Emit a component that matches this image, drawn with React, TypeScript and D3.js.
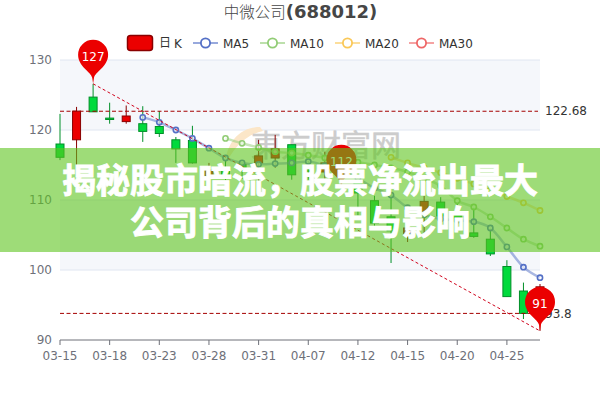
import React from "react";
import * as d3 from "d3";

// --- Data ---
const dates = [
  "03-15", "03-16", "03-17", "03-18", "03-21", "03-22", "03-23", "03-24", "03-25", "03-28",
  "03-29", "03-30", "03-31", "04-01", "04-06", "04-07", "04-08", "04-11", "04-12", "04-13",
  "04-14", "04-15", "04-18", "04-19", "04-20", "04-21", "04-22", "04-25", "04-26", "04-27",
];
const yTicks = [90, 100, 110, 120, 130];

// [open, close, low, high]
const candles: number[][] = [
  [118.0, 116.1, 115.7, 122.3],
  [118.6, 122.7, 115.0, 123.3],
  [124.7, 122.6, 122.6, 126.6],
  [121.7, 121.5, 120.9, 123.9],
  [121.2, 122.0, 120.9, 123.5],
  [120.9, 119.8, 118.3, 123.4],
  [120.5, 119.5, 119.0, 122.7],
  [118.6, 117.3, 115.3, 119.0],
  [118.5, 115.3, 115.2, 120.6],
  [113.5, 114.3, 112.5, 115.3],
  [114.2, 113.6, 112.8, 115.7],
  [115.1, 114.4, 113.0, 115.5],
  [115.3, 116.3, 112.2, 118.6],
  [116.0, 117.3, 114.6, 119.3],
  [117.9, 113.6, 112.9, 117.9],
  [114.3, 114.1, 112.9, 115.6],
  [114.0, 115.3, 112.6, 116.9],
  [113.9, 115.2, 112.4, 117.0],
  [112.5, 111.0, 107.8, 113.4],
  [109.9, 106.7, 106.0, 110.6],
  [107.6, 105.6, 101.0, 111.0],
  [105.2, 106.0, 104.0, 106.8],
  [108.1, 109.8, 104.5, 110.6],
  [109.7, 107.7, 106.5, 110.4],
  [108.0, 107.0, 106.0, 109.5],
  [105.3, 104.8, 104.6, 108.9],
  [104.4, 102.3, 102.0, 105.9],
  [100.5, 96.2, 96.2, 101.4],
  [97.0, 93.8, 93.0, 98.2],
  [93.8, 97.6, 91.3, 98.0],
];

const ma5: (number | null)[] = [
  null, null, null, null, null, 121.8, 121.1, 120.0, 118.8, 117.4,
  116.0, 115.3, 115.1, 115.2, 115.3, 115.5, 114.9, 114.3, 113.1, 111.7,
  110.7, 108.9, 107.9, 107.3, 107.1, 106.9, 106.0, 103.3, 100.4, 98.9,
];
const ma10: (number | null)[] = [
  null, null, null, null, null, null, null, null, null, null,
  118.8, 118.1, 117.5, 116.9, 116.7, 116.4, 116.0, 115.7, 115.4, 115.0,
  114.6, 114.0, 113.1, 112.0, 109.9, 109.0, 107.6, 106.0, 104.4, 103.4,
];
const ma20: (number | null)[] = [
  null, null, null, null, null, null, null, null, null, null,
  null, null, null, null, null, null, null, null, null, null,
  116.1, 115.3, 114.6, 113.9, 113.1, 112.3, 111.4, 110.5, 109.6, 108.5,
];
const ma30: (number | null)[] = dates.map(() => null);

const legendItems = [
  { name: "MA5", data: ma5, color: "#5470c6", x: 193 },
  { name: "MA10", data: ma10, color: "#91cc75", x: 260 },
  { name: "MA20", data: ma20, color: "#fac858", x: 335 },
  { name: "MA30", data: ma30, color: "#ee6666", x: 409 },
];

const highMark = { label: "127", index: 2, value: 126.6 };
const midMark = { label: "112", index: 17, value: 111.6 };
const lowMark = { label: "91", index: 29, value: 91.3 };
const hLines = [122.68, 93.8];

const font = "'DejaVu Sans', sans-serif";
const cjk = "'Noto Sans CJK SC', sans-serif";

// echarts style pin with a thin neck, tip at (0,0)
const pinPath = "M0,0 L-0.9,-6 C-2,-12 -15,-17 -15,-29 A15,15 0 1 1 15,-29 C15,-17 2,-12 0.9,-6 Z";

const App: React.FC = () => {
  const x = d3.scalePoint<string>().domain(dates).range([60, 540]);
  const y = d3.scaleLinear().domain([90, 130]).range([340, 60]);
  const tickDates = dates.filter((_, i) => i % 3 === 0);
  const bodyW = 8;

  const xi = (i: number) => x(dates[i])!;
  const line = d3
    .line<number | null>()
    .defined((d) => d !== null)
    .x((_, i) => xi(i))
    .y((d) => y(d as number))
    .curve(d3.curveMonotoneX);

  return (
    <svg
      width={600}
      height={400}
      style={{ position: "absolute", left: 0, top: 0, background: "#fff", fontFamily: font }}
    >
      {/* split areas */}
      {[[130, 120], [110, 100]].map(([a, b]) => (
        <rect key={a} x={60} width={480} y={y(a)} height={y(b) - y(a)} fill="#f5f7fb" />
      ))}

      {/* grid + y axis */}
      {yTicks.map((t) => (
        <g key={t}>
          {t !== 90 && <line x1={60} x2={540} y1={y(t)} y2={y(t)} stroke="#e0e6f1" />}
          <text x={52} y={y(t)} dy="0.35em" textAnchor="end" fontSize={12} fill="#6e7079">
            {t}
          </text>
        </g>
      ))}

      {/* watermark */}
      <path d="M260,127 C240,127 226,142 225,166 C232,150 244,135 263,131 Z" fill="#fbe6c8" />
      <text x={251} y={156} fontFamily={cjk} fontSize={30} fill="#cccccc" stroke="#cccccc" strokeWidth={0.5} textLength={150}>
        東方财富网
      </text>

      {/* x axis */}
      <line x1={60} x2={540} y1={340} y2={340} stroke="#6e7079" />
      {tickDates.map((d) => (
        <g key={d}>
          <line x1={x(d)} x2={x(d)} y1={340} y2={345} stroke="#6e7079" />
          <text x={x(d)} y={360} textAnchor="middle" fontSize={12} fill="#6e7079">
            {d}
          </text>
        </g>
      ))}

      {/* candles */}
      {candles.map(([o, c, l, h], i) => {
        const up = c > o;
        const stroke = up ? "#8a0000" : "#008f28";
        return (
          <g key={i}>
            <line x1={xi(i)} x2={xi(i)} y1={y(h)} y2={y(l)} stroke={stroke} />
            <rect
              x={xi(i) - bodyW / 2}
              width={bodyW}
              y={y(Math.max(o, c))}
              height={Math.abs(y(o) - y(c))}
              fill={up ? "#eb0000" : "#00da3c"}
              stroke={stroke}
            />
          </g>
        );
      })}

      {/* moving averages */}
      {legendItems.map((s) => (
        <g key={s.name}>
          <path d={line(s.data) ?? ""} fill="none" stroke={s.color} strokeWidth={2.5} strokeOpacity={0.5} />
          {s.data.map((d, i) =>
            d === null ? null : (
              <circle key={i} cx={xi(i)} cy={y(d)} r={2.6} fill="#fff" fillOpacity={0.6} stroke={s.color} strokeWidth={1.6} />
            ),
          )}
        </g>
      ))}

      {/* mark lines */}
      {hLines.map((v) => (
        <g key={v}>
          <line x1={60} x2={538} y1={y(v)} y2={y(v)} stroke="#a50000" strokeDasharray="4 2.5" />
          <text x={545} y={y(v)} dy="0.35em" fontSize={12} fill="#333">
            {v}
          </text>
        </g>
      ))}
      <line
        x1={xi(highMark.index)}
        y1={y(highMark.value)}
        x2={xi(lowMark.index)}
        y2={y(lowMark.value)}
        stroke="#d0021b"
        strokeDasharray="3 2.5"
      />

      {/* pins */}
      {[highMark, midMark, lowMark].map((m) => (
        <g key={m.label} transform={`translate(${xi(m.index)},${y(m.value)})`}>
          <path d={pinPath} fill="#eb0000" />
          <text y={-27} textAnchor="middle" dy="0.35em" fontSize={12} fill="#fff">
            {m.label}
          </text>
        </g>
      ))}

      {/* title */}
      <text x={300.5} y={18} textAnchor="middle" fill="#464646">
        <tspan fontFamily={cjk} fontSize={15.5} fontWeight={300}>
          中微公司
        </tspan>
        <tspan fontSize={18} fontWeight="bold">
          (688012)
        </tspan>
      </text>

      {/* legend */}
      <rect x={127.5} y={35.5} width={25} height={15} rx={3} fill="#eb0000" stroke="#8a0000" strokeWidth={1.5} />
      <text x={159} y={47} fontFamily={cjk} fontSize={12} fill="#333">
        日
      </text>
      <text x={174} y={47.5} fontSize={12} fill="#333">
        K
      </text>
      {legendItems.map((s) => (
        <g key={s.name}>
          <line x1={s.x} x2={s.x + 25} y1={43} y2={43} stroke={s.color} strokeWidth={2} strokeOpacity={0.6} />
          <circle cx={s.x + 12.5} cy={43} r={4.6} fill="#fff" stroke={s.color} strokeWidth={1.8} />
          <text x={s.x + 30} y={47.5} fontSize={12} fill="#333">
            {s.name}
          </text>
        </g>
      ))}

      {/* banner */}
      <rect x={0} y={148} width={600} height={104} fill="rgb(93,197,30)" fillOpacity={0.6} />
      <g fontFamily={cjk} fontWeight={700} fontSize={34} fill="#fff" stroke="#fff" strokeWidth={0.9} textAnchor="middle">
        <text x={300} y={193}>揭秘股市暗流，股票净流出最大</text>
        <text x={300} y={235}>公司背后的真相与影响</text>
      </g>
    </svg>
  );
};

export default App;
